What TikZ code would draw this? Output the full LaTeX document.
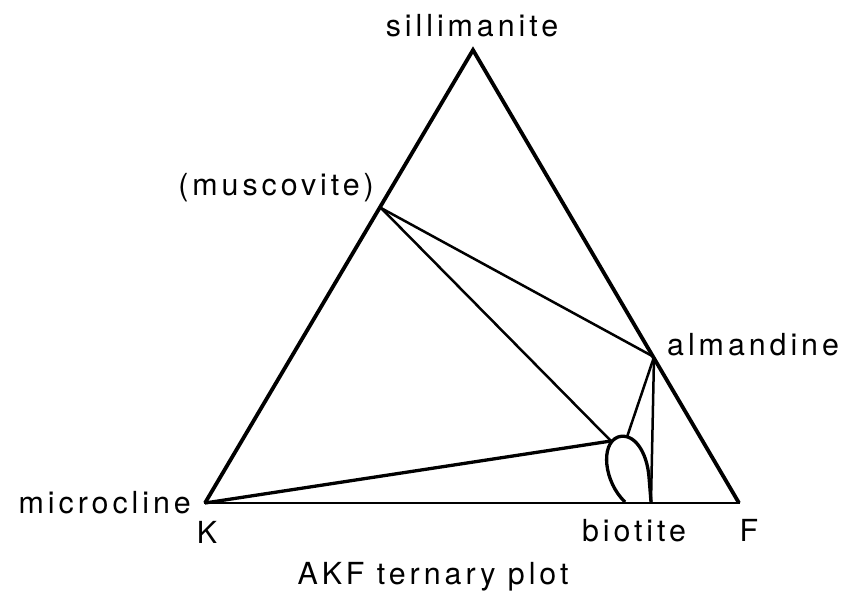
\documentclass[tikz,border=0pt]{standalone}
\usepackage{fontspec}
\setmainfont{TeX Gyre Heros}[LetterSpace=13]
\usepackage{tikz}
\usetikzlibrary{positioning,calc}

\begin{document}
\begin{tikzpicture}[
    x=1bp, y=-1bp,
    side/.style={line width=3.8bp, line join=miter},
    base/.style={line width=2.8bp},
    tie/.style={line width=2.5bp},
    tiebold/.style={line width=3.3bp},
    field/.style={line width=3.3bp},
    lab/.style={inner sep=0pt, font=\fontsize{30.5}{34}\selectfont}
]
\useasboundingbox (0,0) rectangle (856,594);

% corners and phase points
\coordinate (K) at (205,503);
\coordinate (F) at (739,503);
\coordinate (sil) at (473,50);
\coordinate (mus) at (381,208);
\coordinate (alm) at (654,357);
\coordinate (bioL) at (611,441);
\coordinate (bioT) at (627,437);
\coordinate (bioR) at (651,502);
\coordinate (bioB) at (625,502);

% triangle
\draw[side] (K) -- (sil) -- (F);
\draw[base] ($(K)+(-1,0)$) -- ($(F)+(1,0)$);

% tie lines
\draw[tie] (mus) -- (alm);
\draw[tie] (mus) -- (bioL);
\draw[tiebold] (K) -- (bioL);
\draw[tie] (alm) -- (bioT);
\draw[tie] (alm) -- (bioR);

% biotite field
\draw[field] (bioB) .. controls (604,482) and (600,444) .. (618,437)
    .. controls (634,432) and (647,452) .. (649,477) -- (bioR);

% labels
\node[lab, anchor=base] (silLab) at (472,37) {sillimanite};
\node[lab, anchor=base east] (musLab) at (374,196) {(muscovite)};
\node[lab, anchor=base west] (almLab) at (667,355) {almandine};
\node[lab, anchor=base east] (micLab) at (191,513) {microcline};
\node[lab, anchor=base] (kLab) at (207,543) {K};
\node[lab, anchor=base] (bioLab) at (634,541) {biotite};
\node[lab, anchor=base] (fLab) at (749,541) {F};
\node[lab, anchor=base] (title) at (433,584) {AKF ternary plot};
\end{tikzpicture}
\end{document}
